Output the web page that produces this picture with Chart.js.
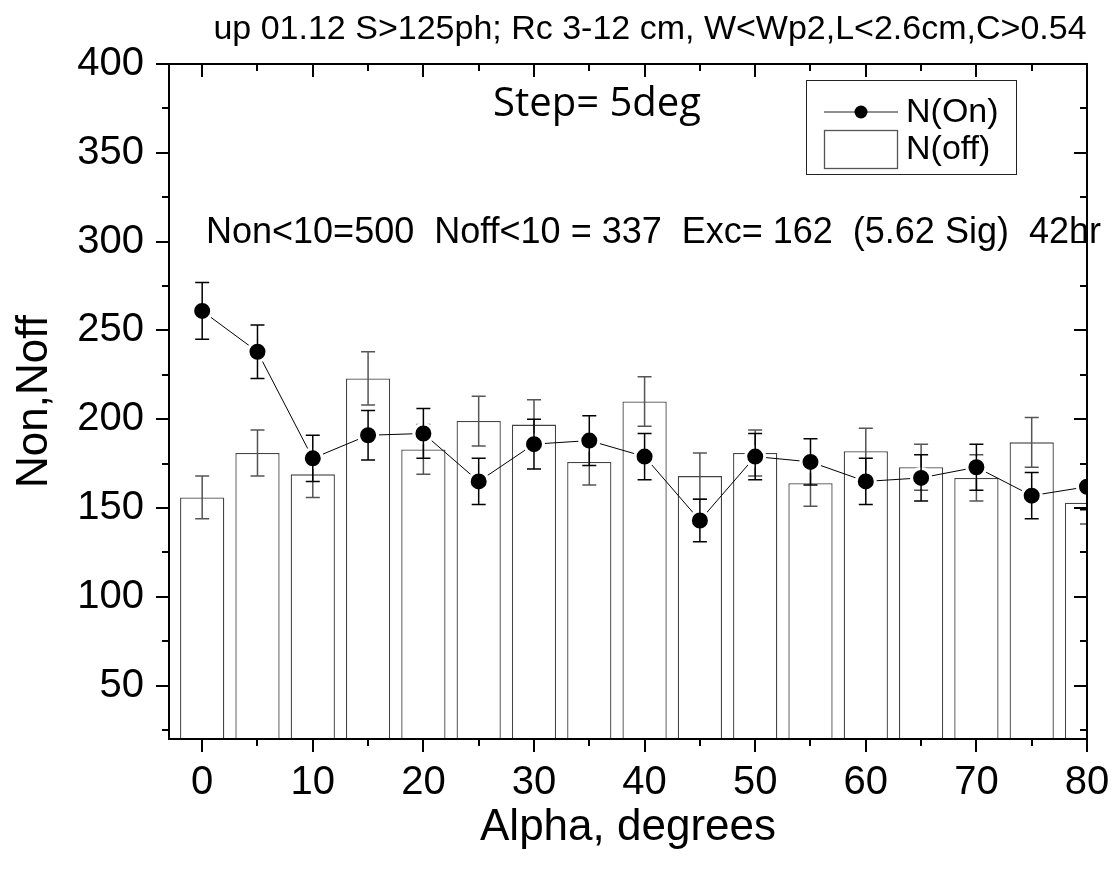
<!DOCTYPE html>
<html>
<head>
<meta charset="utf-8">
<script src="https://cdn.jsdelivr.net/npm/chart.js@4"></script>
<style>
  body { margin: 0; background: #fff; }
  canvas { display: block; }
</style>
</head>
<body>
<canvas id="alphaChart" width="1113" height="876"></canvas>
<script>
// Alpha distribution, 5 deg bins
const angles = [0, 5, 10, 15, 20, 25, 30, 35, 40, 45, 50, 55, 60, 65, 70, 75, 80];
const nOn = [261, 238, 178, 191, 192, 165, 186, 188, 179, 143, 179, 176, 165, 167, 173, 157, 162];
const nOnErr = [16, 15, 13, 14, 14, 13, 14, 14, 13, 12, 13, 13, 13, 13, 13, 13, 13];
const nOff = [156, 181, 169, 223, 183, 199, 197, 176, 210, 168, 181, 164, 182, 173, 167, 187, 153];
const nOffErr = [12, 13, 13, 15, 14, 14, 14, 13, 14, 13, 13, 13, 13, 13, 13, 14, 12];

const xTicks = [0, 10, 20, 30, 40, 50, 60, 70, 80];
const yTicks = [50, 100, 150, 200, 250, 300, 350, 400];

const titleText = 'up 01.12 S>125ph; Rc 3-12 cm, W<Wp2,L<2.6cm,C>0.54';
const stepText = 'Step= 5deg';
const summaryText = 'Non<10=500  Noff<10 = 337  Exc= 162  (5.62 Sig)  42hr';

const FONT = '"Liberation Sans", Arial, sans-serif';

function drawErrors(chart, values, errs, color) {
    const ctx = chart.ctx;
    const xs = chart.scales.x, ys = chart.scales.y;
    const area = chart.chartArea;
    ctx.save();
    ctx.beginPath();
    ctx.rect(area.left, area.top, area.right - area.left, area.bottom - area.top);
    ctx.clip();
    ctx.strokeStyle = color;
    ctx.lineWidth = 1.5;
    values.forEach((v, i) => {
        const px = xs.getPixelForValue(angles[i]);
        const hi = ys.getPixelForValue(v + errs[i]);
        const lo = ys.getPixelForValue(v - errs[i]);
        ctx.beginPath();
        ctx.moveTo(px, hi); ctx.lineTo(px, lo);
        ctx.moveTo(px - 7, hi); ctx.lineTo(px + 7, hi);
        ctx.moveTo(px - 7, lo); ctx.lineTo(px + 7, lo);
        ctx.stroke();
    });
    ctx.restore();
}

const errorBars = {
    id: 'errorBars',
    afterDatasetDraw(chart, args) {
        if (args.index === 1) drawErrors(chart, nOff, nOffErr, '#555');
        if (args.index === 0) drawErrors(chart, nOn, nOnErr, '#000');
    }
};

// frame with origin-style ticks: out on left/bottom, in on top/right
const frame = {
    id: 'frame',
    afterDraw(chart) {
        const ctx = chart.ctx;
        const xs = chart.scales.x, ys = chart.scales.y;
        const a = chart.chartArea;
        ctx.save();
        ctx.strokeStyle = '#000';
        ctx.lineWidth = 2;
        ctx.strokeRect(a.left, a.top, a.right - a.left, a.bottom - a.top);
        ctx.beginPath();
        for (let v = 0; v <= 80; v += 5) {
            const px = Math.round(xs.getPixelForValue(v));
            const len = v % 10 === 0 ? 13 : 7;
            ctx.moveTo(px, a.bottom); ctx.lineTo(px, a.bottom + len);
            ctx.moveTo(px, a.top); ctx.lineTo(px, a.top + len);
        }
        for (let v = 25; v <= 400; v += 25) {
            const py = Math.round(ys.getPixelForValue(v));
            const len = v % 50 === 0 ? 13 : 7;
            ctx.moveTo(a.left, py); ctx.lineTo(a.left - len, py);
            ctx.moveTo(a.right, py); ctx.lineTo(a.right - len, py);
        }
        ctx.stroke();

        // legend
        ctx.lineWidth = 1;
        ctx.strokeStyle = '#222';
        ctx.strokeRect(806.5, 80.5, 210, 94);
        ctx.beginPath();
        ctx.moveTo(824, 112); ctx.lineTo(898, 112);
        ctx.stroke();
        ctx.fillStyle = '#000';
        ctx.beginPath();
        ctx.arc(861, 112, 6.5, 0, Math.PI * 2);
        ctx.fill();
        ctx.strokeStyle = '#555';
        ctx.lineWidth = 1.3;
        ctx.strokeRect(824.5, 130.5, 73, 38);
        ctx.font = '34px ' + FONT;
        ctx.textBaseline = 'middle';
        ctx.textAlign = 'left';
        ctx.fillText('N(On)', 906, 113);
        ctx.fillText('N(off)', 906, 150);

        // texts
        ctx.textAlign = 'center';
        ctx.font = '34px ' + FONT;
        ctx.fillText(titleText, 650, 30);
        ctx.font = '40px "Open Sans", "Noto Sans", sans-serif';
        ctx.fillText(stepText, 597, 105);
        ctx.textAlign = 'left';
        ctx.font = '36px ' + FONT;
        ctx.fillText(summaryText, 206, 233);
        ctx.restore();
    }
};

const ctx = document.getElementById('alphaChart').getContext('2d');
new Chart(ctx, {
    data: {
        datasets: [{
            type: 'line',
            label: 'N(On)',
            data: angles.map((a, i) => ({ x: a, y: nOn[i] })),
            borderColor: '#000',
            borderWidth: 1,
            pointRadius: 9.5,
            pointBackgroundColor: '#000',
            pointBorderColor: '#fff',
            pointBorderWidth: 3,
            tension: 0,
            order: 0
        }, {
            type: 'bar',
            label: 'N(off)',
            data: angles.map((a, i) => ({ x: a, y: nOff[i] })),
            backgroundColor: '#fff',
            borderColor: '#444',
            borderWidth: 1.3,
            barPercentage: 0.8,
            categoryPercentage: 1.0,
            order: 1
        }]
    },
    options: {
        responsive: false,
        animation: false,
        events: [],
        layout: { padding: { top: 64, right: 26, left: 0, bottom: 0 } },
        plugins: { legend: { display: false }, tooltip: { enabled: false } },
        scales: {
            x: {
                type: 'linear',
                min: -3,
                max: 80,
                offset: false,
                afterFit: s => { s.height = 137; s.paddingLeft = 0; s.paddingRight = 0; },
                afterBuildTicks: s => { s.ticks = xTicks.map(v => ({ value: v })); },
                grid: { display: false, drawTicks: false },
                border: { display: false },
                ticks: { color: '#000', padding: 20, maxRotation: 0, font: { family: FONT, size: 40 } },
                title: { display: true, text: 'Alpha, degrees', color: '#000', padding: { top: 0, bottom: 22 }, font: { family: FONT, size: 44 } }
            },
            y: {
                min: 20,
                max: 400,
                afterFit: s => { s.width = 169; s.paddingTop = 0; s.paddingBottom = 0; },
                afterBuildTicks: s => { s.ticks = yTicks.map(v => ({ value: v })); },
                grid: { display: false, drawTicks: false },
                border: { display: false },
                ticks: { color: '#000', padding: 25, font: { family: FONT, size: 40 } },
                title: { display: true, text: 'Non,Noff', color: '#000', padding: { top: 8, bottom: 0 }, font: { family: FONT, size: 44 } }
            }
        }
    },
    plugins: [errorBars, frame]
});
</script>
</body>
</html>
